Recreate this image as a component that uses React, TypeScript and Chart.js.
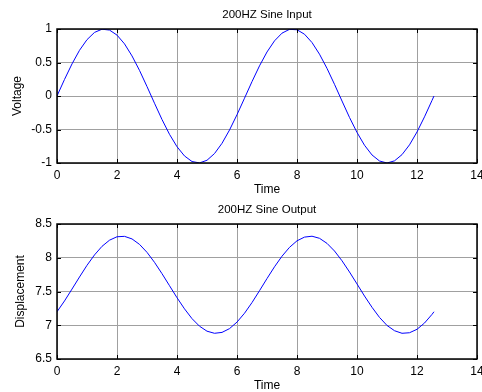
import React, { useEffect, useRef } from "react";
import { Chart, registerables } from "chart.js";

Chart.register(...registerables);

const timeValues = [0, 0.25, 0.5, 0.75, 1, 1.25, 1.5, 1.75, 2, 2.25, 2.5, 2.75, 3, 3.25, 3.5, 3.75, 4, 4.25, 4.5, 4.75, 5, 5.25, 5.5, 5.75, 6, 6.25, 6.5, 6.75, 7, 7.25, 7.5, 7.75, 8, 8.25, 8.5, 8.75, 9, 9.25, 9.5, 9.75, 10, 10.25, 10.5, 10.75, 11, 11.25, 11.5, 11.75, 12, 12.25, 12.5, 12.566];

const inputVoltage = [0, 0.247, 0.479, 0.682, 0.841, 0.949, 0.997, 0.984, 0.909, 0.778, 0.598, 0.382, 0.141, -0.108, -0.351, -0.572, -0.757, -0.895, -0.978, -0.999, -0.959, -0.859, -0.706, -0.508, -0.279, -0.033, 0.215, 0.45, 0.657, 0.823, 0.938, 0.995, 0.989, 0.922, 0.798, 0.624, 0.412, 0.174, -0.075, -0.32, -0.544, -0.735, -0.88, -0.97, -1.0, -0.968, -0.875, -0.729, -0.537, -0.311, -0.066, 0];

const outputDisplacement = [7.2, 7.36, 7.536, 7.715, 7.888, 8.042, 8.169, 8.26, 8.311, 8.317, 8.279, 8.198, 8.08, 7.932, 7.764, 7.586, 7.408, 7.243, 7.098, 6.986, 6.912, 6.881, 6.894, 6.95, 7.047, 7.178, 7.336, 7.512, 7.692, 7.866, 8.023, 8.154, 8.251, 8.306, 8.319, 8.288, 8.213, 8.1, 7.955, 7.789, 7.612, 7.433, 7.266, 7.116, 6.997, 6.919, 6.881, 6.889, 6.94, 7.033, 7.161, 7.2];

const xTicks = [0, 2, 4, 6, 8, 10, 12, 14];
const inputTicks = [-1, -0.5, 0, 0.5, 1];
const outputTicks = [6.5, 7, 7.5, 8, 8.5];

const FONT = "'Liberation Sans', Arial, sans-serif";

const boxPlugin = {
  id: "matlabBox",
  afterDraw(chart: any) {
    const { ctx, chartArea } = chart;
    const { left, right, top, bottom } = chartArea;
    const xs = chart.scales.x;
    const ys = chart.scales.y;
    ctx.save();
    ctx.strokeStyle = "#000";
    ctx.lineWidth = 1;
    const tl = 4;
    ctx.beginPath();
    xs.ticks.forEach((t: any) => {
      const px = Math.round(xs.getPixelForValue(t.value)) + 0.5;
      ctx.moveTo(px, bottom);
      ctx.lineTo(px, bottom - tl);
      ctx.moveTo(px, top);
      ctx.lineTo(px, top + tl);
    });
    ys.ticks.forEach((t: any) => {
      const py = Math.round(ys.getPixelForValue(t.value)) + 0.5;
      ctx.moveTo(left, py);
      ctx.lineTo(left + tl, py);
      ctx.moveTo(right, py);
      ctx.lineTo(right - tl, py);
    });
    ctx.stroke();
    ctx.lineWidth = 1.5;
    ctx.strokeRect(left, top, right - left, bottom - top);
    const opts = chart.options.plugins.customTitle || {};
    ctx.fillStyle = "#000";
    ctx.textAlign = "center";
    ctx.textBaseline = "middle";
    if (opts.text) {
      ctx.font = "11.5px " + FONT;
      ctx.fillText(opts.text, (left + right) / 2, top - 14);
    }
    if (opts.xLabel) {
      ctx.font = "12px " + FONT;
      ctx.fillText(opts.xLabel, (left + right) / 2, bottom + 27);
    }
    ctx.restore();
  },
};

function makeConfig(values: number[], yTicks: number[], yLabel: string, title: string, yTitlePad: number): any {
  return {
    type: "line",
    data: {
      datasets: [
        {
          data: timeValues.map((t, i) => ({ x: t, y: values[i] })),
          borderColor: "#0000ff",
          borderWidth: 1,
          pointRadius: 0,
          fill: false,
          tension: 0,
        },
      ],
    },
    options: {
      animation: false,
      responsive: false,
      maintainAspectRatio: false,
      layout: { padding: { top: 29, right: 5, left: 0, bottom: 0 } },
      plugins: {
        legend: { display: false },
        tooltip: { enabled: false },
        customTitle: { text: title, xLabel: "Time" },
      },
      scales: {
        x: {
          type: "linear",
          min: 0,
          max: 14,
          afterBuildTicks: (s: any) => {
            s.ticks = xTicks.map((v) => ({ value: v }));
          },
          afterFit: (s: any) => {
            s.height = 33;
            s.paddingLeft = 0;
            s.paddingRight = 0;
          },
          grid: { color: "#a0a0a0", lineWidth: 1, drawTicks: false },
          border: { display: false },
          ticks: {
            color: "#000",
            font: { family: FONT, size: 12 },
            padding: 5,
            maxRotation: 0,
            autoSkip: false,
            callback: (v: any) => String(v),
          },
          title: { display: false },
        },
        y: {
          type: "linear",
          min: yTicks[0],
          max: yTicks[yTicks.length - 1],
          afterBuildTicks: (s: any) => {
            s.ticks = yTicks.map((v) => ({ value: v }));
          },
          afterFit: (s: any) => {
            s.width = 57;
            s.paddingTop = 0;
            s.paddingBottom = 0;
          },
          grid: { color: "#a0a0a0", lineWidth: 1, drawTicks: false },
          border: { display: false },
          ticks: {
            color: "#000",
            font: { family: FONT, size: 12 },
            padding: 5,
            autoSkip: false,
            callback: (v: any) => String(v),
          },
          title: {
            display: true,
            text: yLabel,
            color: "#000",
            font: { family: FONT, size: 12 },
            padding: { top: yTitlePad, bottom: 0 },
          },
        },
      },
    },
    plugins: [boxPlugin],
  };
}

function Plot(props: { values: number[]; yTicks: number[]; yLabel: string; title: string; top: number; height: number; yTitlePad: number }) {
  const ref = useRef<HTMLCanvasElement>(null);
  useEffect(() => {
    if (!ref.current) return;
    const chart = new Chart(ref.current, makeConfig(props.values, props.yTicks, props.yLabel, props.title, props.yTitlePad));
    return () => chart.destroy();
  }, []);
  return (
    <canvas
      ref={ref}
      width={482}
      height={props.height}
      style={{ position: "absolute", left: 0, top: props.top, width: 482, height: props.height }}
    />
  );
}

export default function App() {
  return (
    <div
      style={{
        position: "fixed",
        left: 0,
        top: 0,
        width: 482,
        height: 392,
        background: "#fff",
        overflow: "hidden",
      }}
    >
      <Plot values={inputVoltage} yTicks={inputTicks} yLabel="Voltage" title="200HZ Sine Input" top={0} height={196} yTitlePad={10} />
      <Plot values={outputDisplacement} yTicks={outputTicks} yLabel="Displacement" title="200HZ Sine Output" top={195} height={197} yTitlePad={13} />
    </div>
  );
}
